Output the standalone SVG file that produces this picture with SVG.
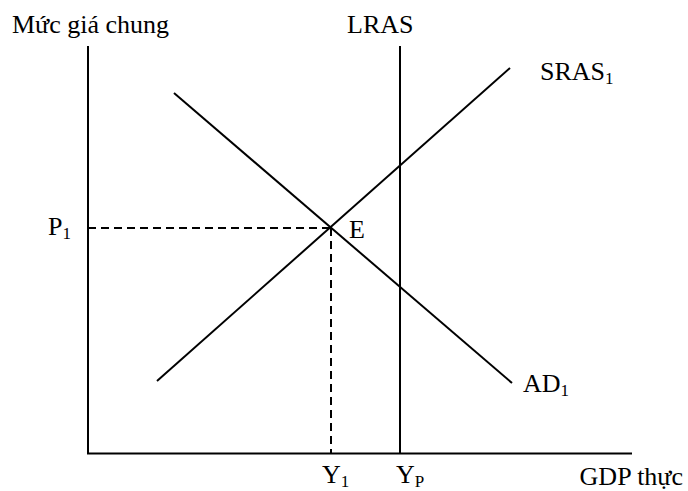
<svg xmlns="http://www.w3.org/2000/svg" width="688" height="491" viewBox="0 0 688 491">
<style>
text{font-family:"Liberation Serif","Times New Roman",serif;font-size:26px;fill:#000}
.sub{font-size:17px}
.ln{stroke:#000;stroke-width:2;fill:none}
.ds{stroke:#000;stroke-width:2;fill:none;stroke-dasharray:8,5}
</style>
<rect width="688" height="491" fill="#fff"/>
<g id="connectors">
<line class="ln" x1="88" y1="46" x2="88" y2="454"/>
<line class="ln" x1="87" y1="453.5" x2="632" y2="453.5"/>
<line class="ln" x1="400" y1="46" x2="400" y2="454"/>
<line class="ln" x1="157" y1="381" x2="510" y2="68"/>
<line class="ln" x1="174" y1="93" x2="512" y2="383"/>
<line class="ds" x1="88" y1="228" x2="331" y2="228"/>
<line class="ds" x1="331" y1="228" x2="331" y2="453"/>
</g>
<g id="label-y"><text x="12" y="33">Mức giá chung</text></g>
<g id="label-lras"><text x="347" y="33">LRAS</text></g>
<g id="label-sras"><text x="540" y="80">SRAS<tspan class="sub" dy="4">1</tspan></text></g>
<g id="label-p1"><text x="48" y="235">P<tspan class="sub" dy="4">1</tspan></text></g>
<g id="label-e"><text x="349" y="238">E</text></g>
<g id="label-ad"><text x="523" y="392">AD<tspan class="sub" dy="4">1</tspan></text></g>
<g id="label-y1"><text x="322" y="483">Y<tspan class="sub" dy="4">1</tspan></text></g>
<g id="label-yp"><text x="396" y="483">Y<tspan class="sub" dy="4">P</tspan></text></g>
<g id="label-x"><text x="683" y="485" text-anchor="end">GDP thực</text></g>
</svg>
